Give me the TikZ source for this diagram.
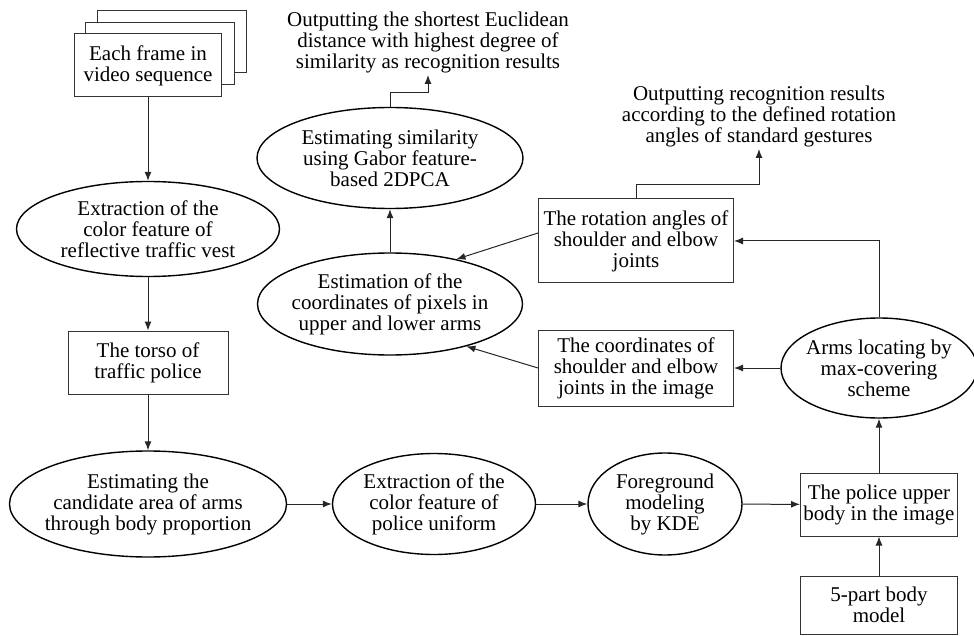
\documentclass[tikz,border=0pt]{standalone}
\usepackage{fontspec}
\setmainfont{Liberation Serif}
\usetikzlibrary{calc,shapes.geometric,arrows.meta}

\begin{document}
\begin{tikzpicture}[x=1pt,y=-1pt,
  font=\fontsize{21}{21}\selectfont,
  boxnode/.style={rectangle, draw=black!80, fill=white, line width=1pt, align=center, inner sep=2pt},
  ovalnode/.style={ellipse, draw=black, fill=white, line width=1.4pt, align=center, inner xsep=-20pt, inner ysep=0pt},
  textnode/.style={align=center, inner sep=2pt, anchor=south},
  flow/.style={-{Latex[length=9pt,width=7pt]}, draw=black!85, line width=1pt}]
            \useasboundingbox (0,0) rectangle (974,636);

            \node[boxnode, minimum width=149pt, minimum height=62pt] (F3) at (171.5,42) {};
            \node[boxnode, minimum width=149pt, minimum height=62pt] (F2) at (159.5,53.5) {};
            \node[boxnode, minimum width=147pt, minimum height=63pt] (F1) at (148,65.5) {Each frame in\\video sequence};
            \node[ovalnode, minimum width=263pt, minimum height=95pt] (V) at (148,229) {Extraction of the\\color feature of\\reflective traffic vest};
            \node[boxnode, minimum width=160pt, minimum height=63pt] (T) at (148,362.5) {The torso of\\traffic police};
            \node[ovalnode, minimum width=277pt, minimum height=106pt] (C) at (148,504) {Estimating the\\candidate area of arms\\through body proportion};
            \node[ovalnode, minimum width=203pt, minimum height=101pt] (U) at (434,504) {Extraction of the\\color feature of\\police uniform};
            \node[ovalnode, minimum width=154pt, minimum height=102pt] (K) at (665,504) {Foreground\\modeling\\by KDE};
            \node[boxnode, minimum width=157pt, minimum height=63pt] (P) at (879,504.5) {The police upper\\body in the image};
            \node[boxnode, minimum width=157pt, minimum height=58pt] (M) at (879,605) {5-part body\\model};
            \node[ovalnode, minimum width=196pt, minimum height=100pt] (A) at (879,368) {Arms locating by\\max-covering\\scheme};
            \node[boxnode, minimum width=195pt, minimum height=76pt] (J) at (636,368) {The coordinates of\\shoulder and elbow\\joints in the image};
            \node[boxnode, minimum width=195pt, minimum height=84pt] (R) at (636,241) {The rotation angles of\\shoulder and elbow\\joints};
            \node[ovalnode, minimum width=265pt, minimum height=102pt] (X) at (390,304) {Estimation of the\\coordinates of pixels in\\upper and lower arms};
            \node[ovalnode, minimum width=266pt, minimum height=101pt] (S) at (390,158) {Estimating similarity\\using Gabor feature-\\based 2DPCA};
            \node[textnode] (O1) at (428,75) {Outputting the shortest Euclidean\\distance with highest degree of\\similarity as recognition results};
            \node[textnode] (O2) at (759,149) {Outputting recognition results\\according to the defined rotation\\angles of standard gestures};

            \draw[flow] (F1) -- (V);
            \draw[flow] (V) -- (T);
            \draw[flow] (T) -- (C);
            \draw[flow] (C) -- (U);
            \draw[flow] (U) -- (K);
            \draw[flow] (K) -- (P);
            \draw[flow] (M) -- (P);
            \draw[flow] (P) -- (A);
            \draw[flow] (A) -- (J);
            \draw[flow] (A.north) |- (R.east);
            \draw[flow] (R.north) -- ++(0,-14) -| (O2.south);
            \draw[flow] ([yshift=8pt]R.west) -- (X.34);
            \draw[flow] (J.west) -- (X.-29);
            \draw[flow] (X) -- (S);
            \draw[flow] (S.north) -- ++(0,-14) -| (O1.south);

        \end{tikzpicture}
\end{document}
